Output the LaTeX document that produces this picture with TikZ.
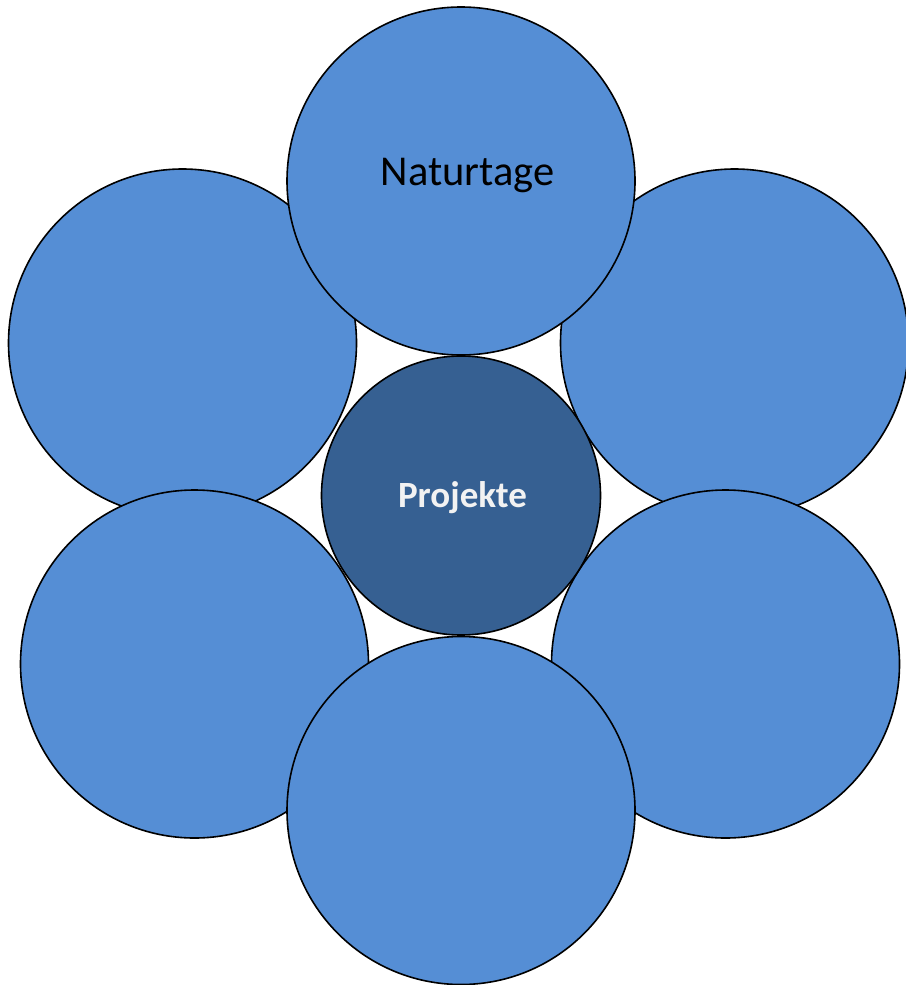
\documentclass[tikz,border=0pt]{standalone}
\usepackage{fontspec}
\setmainfont{Carlito}
\definecolor{petal}{HTML}{558ED5}
\definecolor{core}{HTML}{366092}
\begin{document}
\begin{tikzpicture}[x=1pt,y=-1pt,
  petalc/.style={circle,draw=black,line width=1.6pt,fill=petal,minimum size=348pt,inner sep=0pt},
  corec/.style={circle,draw=black,line width=1.6pt,fill=core,minimum size=279pt,inner sep=0pt}]
\useasboundingbox (0,0) rectangle (905,985);
\node[petalc] (ul) at (182.5,343) {};
\node[petalc] (ur) at (734.5,343) {};
\node[petalc] (ll) at (194.5,664) {};
\node[petalc] (lr) at (725.5,664) {};
\node[petalc] (top) at (461,181) {};
\node[petalc] (bot) at (461,810.5) {};
\node[corec] (ctr) at (461,495.5) {};
\node[font=\fontsize{42.5}{50}\selectfont,text=black] (lbl1) at (467.5,176) {Naturtage};
\node[font=\fontsize{37}{44}\selectfont\bfseries,text=white!95!black] (lbl2) at (462.5,497.5) {Projekte};
\end{tikzpicture}
\end{document}
